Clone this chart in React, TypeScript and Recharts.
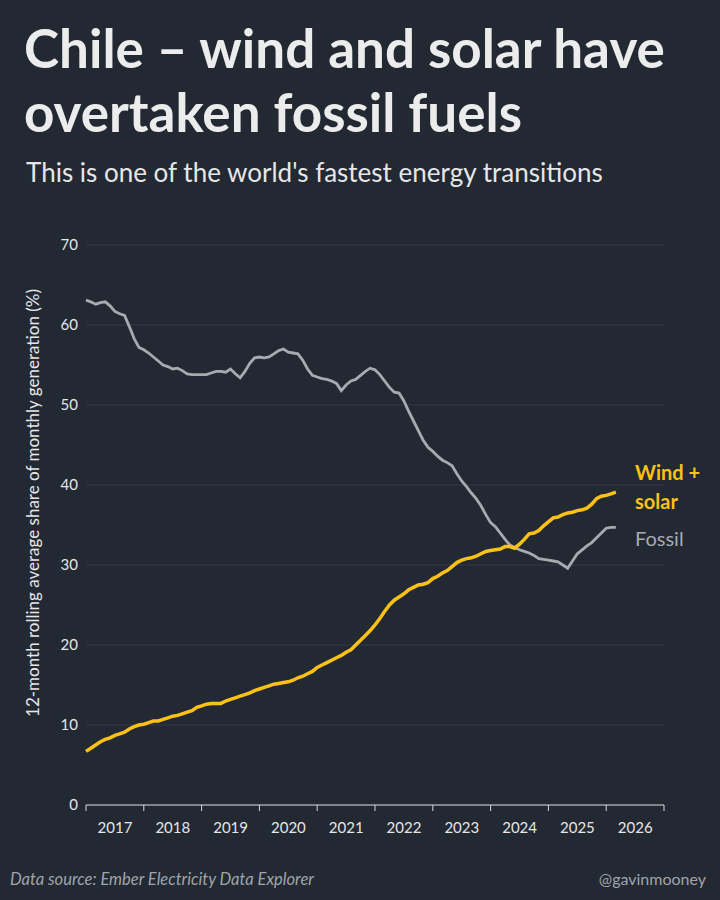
import React from 'react';
import { LineChart, Line, XAxis, YAxis, CartesianGrid } from 'recharts';

// Monthly 12-month rolling shares (%), Jan 2017 onwards
const fossil = [
  63.1, 62.9, 62.6, 62.8, 62.9, 62.4, 61.7, 61.4, 61.2, 59.8, 58.3, 57.2,
  56.9, 56.5, 56.0, 55.5, 55.0, 54.8, 54.5, 54.6, 54.3, 53.9, 53.8, 53.8,
  53.8, 53.8, 54.0, 54.2, 54.2, 54.1, 54.5, 53.9, 53.4, 54.2, 55.2, 55.9,
  56.0, 55.9, 56.0, 56.4, 56.8, 57.0, 56.6, 56.5, 56.4, 55.6, 54.5, 53.7,
  53.5, 53.3, 53.2, 53.0, 52.7, 51.8, 52.5, 53.0, 53.2, 53.7, 54.2, 54.6,
  54.4, 53.8, 53.0, 52.2, 51.6, 51.5, 50.5, 49.2, 48.0, 46.8, 45.6, 44.7,
  44.2, 43.6, 43.1, 42.8, 42.4, 41.4, 40.5, 39.8, 39.0, 38.3, 37.4, 36.3,
  35.3, 34.8, 34.0, 33.2, 32.5, 32.2, 31.9, 31.7, 31.5, 31.2, 30.8, 30.7,
  30.6, 30.5, 30.4, 30.0, 29.6, 30.5, 31.4, 31.9, 32.4, 32.8, 33.4, 34.0,
  34.6, 34.7, 34.7,
];
const windSolar = [
  6.7, 7.1, 7.5, 7.9, 8.2, 8.4, 8.7, 8.9, 9.1, 9.5, 9.8, 10.0,
  10.1, 10.3, 10.5, 10.5, 10.7, 10.9, 11.1, 11.2, 11.4, 11.6, 11.8, 12.2,
  12.4, 12.6, 12.7, 12.7, 12.7, 13.0, 13.2, 13.4, 13.6, 13.8, 14.0, 14.3,
  14.5, 14.7, 14.9, 15.1, 15.2, 15.3, 15.4, 15.6, 15.9, 16.1, 16.4, 16.7,
  17.2, 17.5, 17.8, 18.1, 18.4, 18.7, 19.1, 19.4, 20.0, 20.6, 21.2, 21.8,
  22.5, 23.3, 24.2, 25.0, 25.6, 26.0, 26.4, 26.9, 27.2, 27.5, 27.6, 27.8,
  28.3, 28.6, 29.0, 29.3, 29.8, 30.3, 30.6, 30.8, 30.9, 31.1, 31.4, 31.7,
  31.8, 31.9, 32.0, 32.3, 32.3, 32.1, 32.6, 33.2, 33.9, 34.0, 34.3, 34.9,
  35.4, 35.9, 36.0, 36.3, 36.5, 36.6, 36.8, 36.9, 37.1, 37.6, 38.3, 38.6,
  38.7, 38.9, 39.1,
];
const years = [2017, 2018, 2019, 2020, 2021, 2022, 2023, 2024, 2025, 2026];
const yTicks = [0, 10, 20, 30, 40, 50, 60, 70];

const data = fossil.map((f, i) => ({ m: i, fossil: f, windSolar: windSolar[i] }));
const xTicks = [...years.map((_, i) => i * 12), years.length * 12];

const BG = '#222933';
const FONT = 'Lato, "Open Sans", sans-serif';

const YearTick = (props: any) => {
  const { x, y, payload } = props;
  const idx = payload.value / 12;
  if (idx >= years.length) return null;
  return (
    <text x={x + 29} y={y + 20} textAnchor="middle" fill="#e6e6e6" fontSize={15} fontFamily={FONT}>
      {years[idx]}
    </text>
  );
};

export default function App() {
  return (
    <div style={{ position: 'absolute', left: 0, top: 0, width: 720, height: 900, background: BG, fontFamily: FONT, overflow: 'hidden' }}>
      <div style={{ position: 'absolute', left: 24, top: 16, color: '#ececec', fontSize: 53, fontWeight: 700, lineHeight: '64px', whiteSpace: 'nowrap' }}>
        Chile – wind and solar have<br />overtaken fossil fuels
      </div>
      <div style={{ position: 'absolute', left: 26, top: 156, color: '#e6e6e6', fontSize: 26, whiteSpace: 'nowrap' }}>
        This is one of the world's fastest energy transitions
      </div>
      <div style={{ position: 'absolute', left: 0, top: 220 }}>
        <LineChart width={720} height={630} data={data} margin={{ top: 25, right: 56, left: 0, bottom: 15 }}>
          <CartesianGrid vertical={false} stroke="#323a47" />
          <XAxis
            dataKey="m"
            type="number"
            domain={[0, 120]}
            ticks={xTicks}
            interval={0}
            tick={<YearTick />}
            stroke="#d8d8d8"
            tickLine={{ stroke: '#d8d8d8' }}
            tickSize={6}
            height={30}
          />
          <YAxis
            domain={[0, 70]}
            ticks={yTicks}
            width={86}
            axisLine={false}
            tickLine={false}
            tick={{ fill: '#e6e6e6', fontSize: 15, fontFamily: FONT }}
          />
          <Line dataKey="fossil" stroke="#a7abb0" strokeWidth={2.8} dot={false} isAnimationActive={false} />
          <Line dataKey="windSolar" stroke="#fbc117" strokeWidth={3.5} dot={false} isAnimationActive={false} />
        </LineChart>
      </div>
      <div style={{ position: 'absolute', left: 32, top: 503, transform: 'translate(-50%, -50%) rotate(-90deg)', whiteSpace: 'nowrap', color: '#e6e6e6', fontSize: 17 }}>
        12-month rolling average share of monthly generation (%)
      </div>
      <div style={{ position: 'absolute', left: 635, top: 458, color: '#fbc117', fontSize: 20, fontWeight: 700, lineHeight: '29px' }}>
        Wind +<br />solar
      </div>
      <div style={{ position: 'absolute', left: 635, top: 526, color: '#a7abb0', fontSize: 20 }}>Fossil</div>
      <div style={{ position: 'absolute', left: 10, top: 869, color: '#a0a4aa', fontSize: 16.5, fontStyle: 'italic' }}>
        Data source: Ember Electricity Data Explorer
      </div>
      <div style={{ position: 'absolute', right: 14, top: 869, color: '#a0a4aa', fontSize: 16 }}>@gavinmooney</div>
    </div>
  );
}
